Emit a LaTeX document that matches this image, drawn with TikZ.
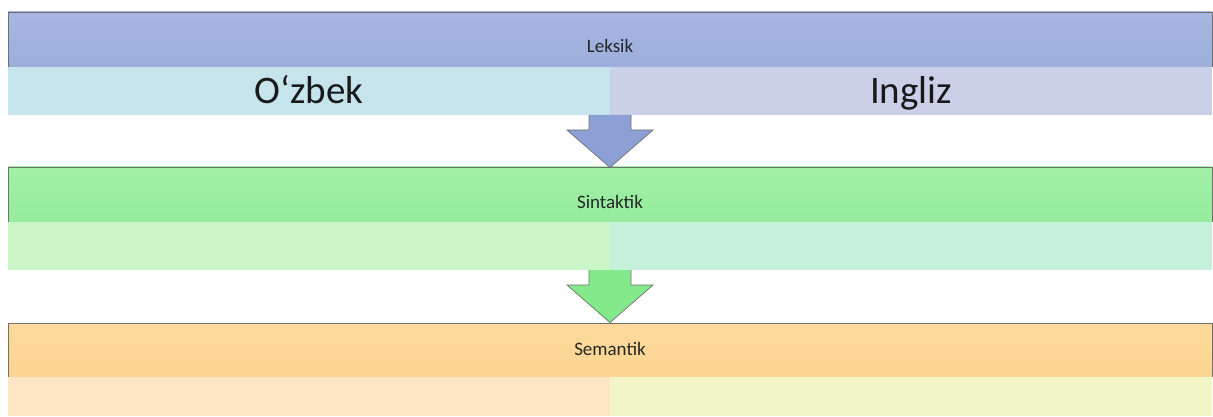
\documentclass[tikz,border=0pt]{standalone}
\usepackage{fontspec}
\setmainfont{Carlito}
\usepackage{xcolor}
\usetikzlibrary{calc}

\definecolor{hdrA}{HTML}{9DAEDB}
\definecolor{hdrAtop}{HTML}{A8B7E1}
\definecolor{hdrB}{HTML}{96EC9C}
\definecolor{hdrBtop}{HTML}{A0F0A6}
\definecolor{hdrC}{HTML}{FDD592}
\definecolor{hdrCtop}{HTML}{FDDA9B}
\definecolor{leftA}{HTML}{C6E4EC}
\definecolor{rightA}{HTML}{CBD0E9}
\definecolor{leftB}{HTML}{CBF7C8}
\definecolor{rightB}{HTML}{C5F1DA}
\definecolor{leftC}{HTML}{FEE5C3}
\definecolor{rightC}{HTML}{F2F6C7}
\definecolor{arrA}{HTML}{8DA0D6}
\definecolor{arrB}{HTML}{83E98B}
\definecolor{rim}{HTML}{707070}

\begin{document}
\begin{tikzpicture}[x=1pt,y=-1pt,
  edge/.style={rim,line width=0.9pt},
  hdrtext/.style={anchor=base,inner sep=0pt,text=black!85,font=\fontsize{19}{22}\selectfont},
  langtext/.style={anchor=base,inner sep=0pt,text=black!90,font=\fontsize{39}{44}\selectfont}]
  \pgfmathsetmacro{\xl}{8}
  \pgfmathsetmacro{\xm}{610}
  \pgfmathsetmacro{\xr}{1212}
  \useasboundingbox (0,0) rectangle (1213,417);

  % header top / row top / row bottom / colour / label baseline / label
  \foreach \t/\m/\b/\c/\y/\name in {12/67/115/A/53/Leksik,167/222/270/B/208/Sintaktik,323/377/416/C/355/Semantik}{
    \shade[top color=hdr\c top,bottom color=hdr\c] (\xl,\t) rectangle (\xr,\m);
    \fill[left\c] (\xl,\m) rectangle (\xm,\b);
    \fill[right\c] (\xm,\m) rectangle (\xr,\b);
    \draw[edge] (\xl,\m) -- (\xl,\t) -- (\xr,\t) -- (\xr,\m);
    \node[hdrtext] (lbl\c) at (\xm,\y) {\name};
  }

  % down arrows between the levels
  \foreach \s/\c in {115/A,270/B}{
    \fill[arr\c] (589,\s) -- (589,\s+15) -- (567,\s+15) -- (\xm,\s+52.5) -- (653,\s+15) -- (631,\s+15) -- (631,\s) -- cycle;
    \draw[edge,line width=0.7pt] (589,\s) -- (589,\s+15) -- (567,\s+15) -- (\xm,\s+52.5) -- (653,\s+15) -- (631,\s+15) -- (631,\s);
  }

  \node[langtext] (uzb) at (309,104) {O‘zbek};
  \node[langtext] (eng) at (911,104) {Ingliz};

\end{tikzpicture}
\end{document}
